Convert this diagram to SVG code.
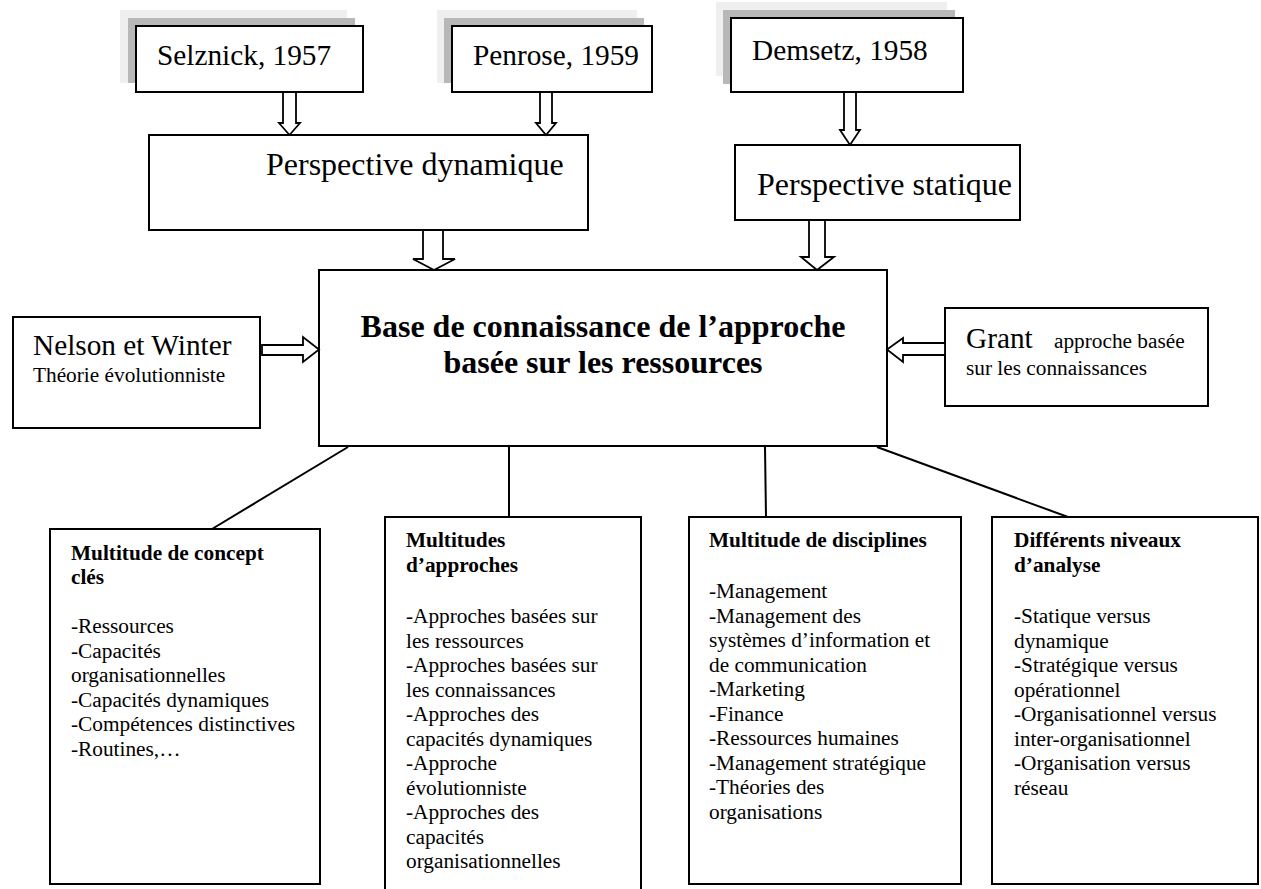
<svg xmlns="http://www.w3.org/2000/svg" width="1261" height="889" viewBox="0 0 1261 889">
<style>
.box{fill:#fff;stroke:#000;stroke-width:2}
.sh1{fill:#efefef}
.sh2{fill:#b8b8b8}
.arr{fill:#fff;stroke:#000;stroke-width:1.8;stroke-linejoin:miter}
.con{stroke:#000;stroke-width:2;fill:none}
text{font-family:"Liberation Serif","Times New Roman",serif;fill:#000}
.t22{font-size:29.3px}
.t24{font-size:32px}
.t16{font-size:21.3px}
.b16{font-size:21.3px;font-weight:bold}
.b24{font-size:32px;font-weight:bold}
</style>
<rect width="1261" height="889" fill="#fff"/>

<g id="selznick">
<rect class="sh1" x="120" y="10" width="227" height="73"/>
<rect class="sh2" x="128" y="18" width="227" height="65"/>
<rect class="box" x="136" y="26" width="227" height="66"/>
<text class="t22" x="157" y="65">Selznick, 1957</text>
</g>

<g id="penrose">
<rect class="sh1" x="437" y="10" width="200" height="73"/>
<rect class="sh2" x="444" y="18" width="200" height="65"/>
<rect class="box" x="452" y="26" width="200" height="66"/>
<text class="t22" x="473" y="65">Penrose, 1959</text>
</g>

<g id="demsetz">
<rect class="sh1" x="716" y="2" width="231" height="74"/>
<rect class="sh2" x="723" y="10" width="232" height="74"/>
<rect class="box" x="731" y="18" width="232" height="74"/>
<text class="t22" x="752" y="60">Demsetz, 1958</text>
</g>

<g id="persp-dynamique">
<rect class="box" x="149" y="135" width="439" height="95"/>
<text class="t24" x="266" y="175">Perspective dynamique</text>
</g>

<g id="persp-statique">
<rect class="box" x="735" y="145" width="285" height="75"/>
<text class="t24" x="757" y="195">Perspective statique</text>
</g>

<g id="base">
<rect class="box" x="319" y="270" width="568" height="176"/>
<text class="b24" x="603" y="337" text-anchor="middle">Base de connaissance de l’approche</text>
<text class="b24" x="603" y="373" text-anchor="middle">basée sur les ressources</text>
</g>

<g id="nelson">
<rect class="box" x="13" y="317" width="247" height="111"/>
<text class="t22" x="33" y="355">Nelson et Winter</text>
<text class="t16" x="33" y="382">Théorie évolutionniste</text>
</g>

<g id="grant">
<rect class="box" x="945" y="308" width="263" height="98"/>
<text x="966" y="348"><tspan class="t22">Grant</tspan><tspan class="t16" x="1054">approche basée</tspan></text>
<text class="t16" x="966" y="375">sur les connaissances</text>
</g>

<g id="concepts">
<rect class="box" x="50" y="529" width="270" height="355"/>
<text class="b16" x="71" y="560">Multitude de concept</text>
<text class="b16" x="71" y="584">clés</text>
<text class="t16" x="71">
<tspan x="71" y="633">-Ressources</tspan>
<tspan x="71" y="657.5">-Capacités</tspan>
<tspan x="71" y="682">organisationnelles</tspan>
<tspan x="71" y="706.5">-Capacités dynamiques</tspan>
<tspan x="71" y="731">-Compétences distinctives</tspan>
<tspan x="71" y="755.5">-Routines,…</tspan>
</text>
</g>

<g id="approches">
<rect class="box" x="385" y="517" width="256" height="380"/>
<text class="b16" x="406" y="547">Multitudes</text>
<text class="b16" x="406" y="572">d’approches</text>
<text class="t16">
<tspan x="406" y="623">-Approches basées sur</tspan>
<tspan x="406" y="647.5">les ressources</tspan>
<tspan x="406" y="672">-Approches basées sur</tspan>
<tspan x="406" y="696.5">les connaissances</tspan>
<tspan x="406" y="721">-Approches des</tspan>
<tspan x="406" y="745.5">capacités dynamiques</tspan>
<tspan x="406" y="770">-Approche</tspan>
<tspan x="406" y="794.5">évolutionniste</tspan>
<tspan x="406" y="819">-Approches des</tspan>
<tspan x="406" y="843.5">capacités</tspan>
<tspan x="406" y="868">organisationnelles</tspan>
</text>
</g>

<g id="disciplines">
<rect class="box" x="689" y="517" width="272" height="367"/>
<text class="b16" x="709" y="547">Multitude de disciplines</text>
<text class="t16">
<tspan x="709" y="598">-Management</tspan>
<tspan x="709" y="622.5">-Management des</tspan>
<tspan x="709" y="647">systèmes d’information et</tspan>
<tspan x="709" y="671.5">de communication</tspan>
<tspan x="709" y="696">-Marketing</tspan>
<tspan x="709" y="720.5">-Finance</tspan>
<tspan x="709" y="745">-Ressources humaines</tspan>
<tspan x="709" y="769.5">-Management stratégique</tspan>
<tspan x="709" y="794">-Théories des</tspan>
<tspan x="709" y="818.5">organisations</tspan>
</text>
</g>

<g id="niveaux">
<rect class="box" x="992" y="517" width="266" height="367"/>
<text class="b16" x="1014" y="547">Différents niveaux</text>
<text class="b16" x="1014" y="572">d’analyse</text>
<text class="t16">
<tspan x="1014" y="623">-Statique versus</tspan>
<tspan x="1014" y="647.5">dynamique</tspan>
<tspan x="1014" y="672">-Stratégique versus</tspan>
<tspan x="1014" y="696.5">opérationnel</tspan>
<tspan x="1014" y="721">-Organisationnel versus</tspan>
<tspan x="1014" y="745.5">inter-organisationnel</tspan>
<tspan x="1014" y="770">-Organisation versus</tspan>
<tspan x="1014" y="794.5">réseau</tspan>
</text>
</g>

<g id="connectors">
<polygon class="arr" points="283,92 296,92 296,123 300,123 289.5,135 279,123 283,123"/>
<polygon class="arr" points="540,92 552,92 552,123 556,123 546,135 536,123 540,123"/>
<polygon class="arr" points="844,92 856,92 856,130 860,130 850,145 840,130 844,130"/>
<polygon class="arr" points="423,230 443,230 443,259 455,259 434,270 413,259 423,259"/>
<polygon class="arr" points="809,220 825,220 825,257 834,257 817,270 801,257 809,257"/>
<polygon class="arr" points="262,345 303,345 303,337 319,349.5 303,362 303,355 262,355"/>
<polygon class="arr" points="945,343 903,343 903,338 887,349.5 903,362 903,355 945,355"/>
<line class="con" x1="348" y1="447" x2="212" y2="529"/>
<line class="con" x1="509" y1="447" x2="509" y2="517"/>
<line class="con" x1="765" y1="447" x2="766" y2="517"/>
<line class="con" x1="877" y1="447" x2="1068" y2="517"/>
</g>
</svg>
